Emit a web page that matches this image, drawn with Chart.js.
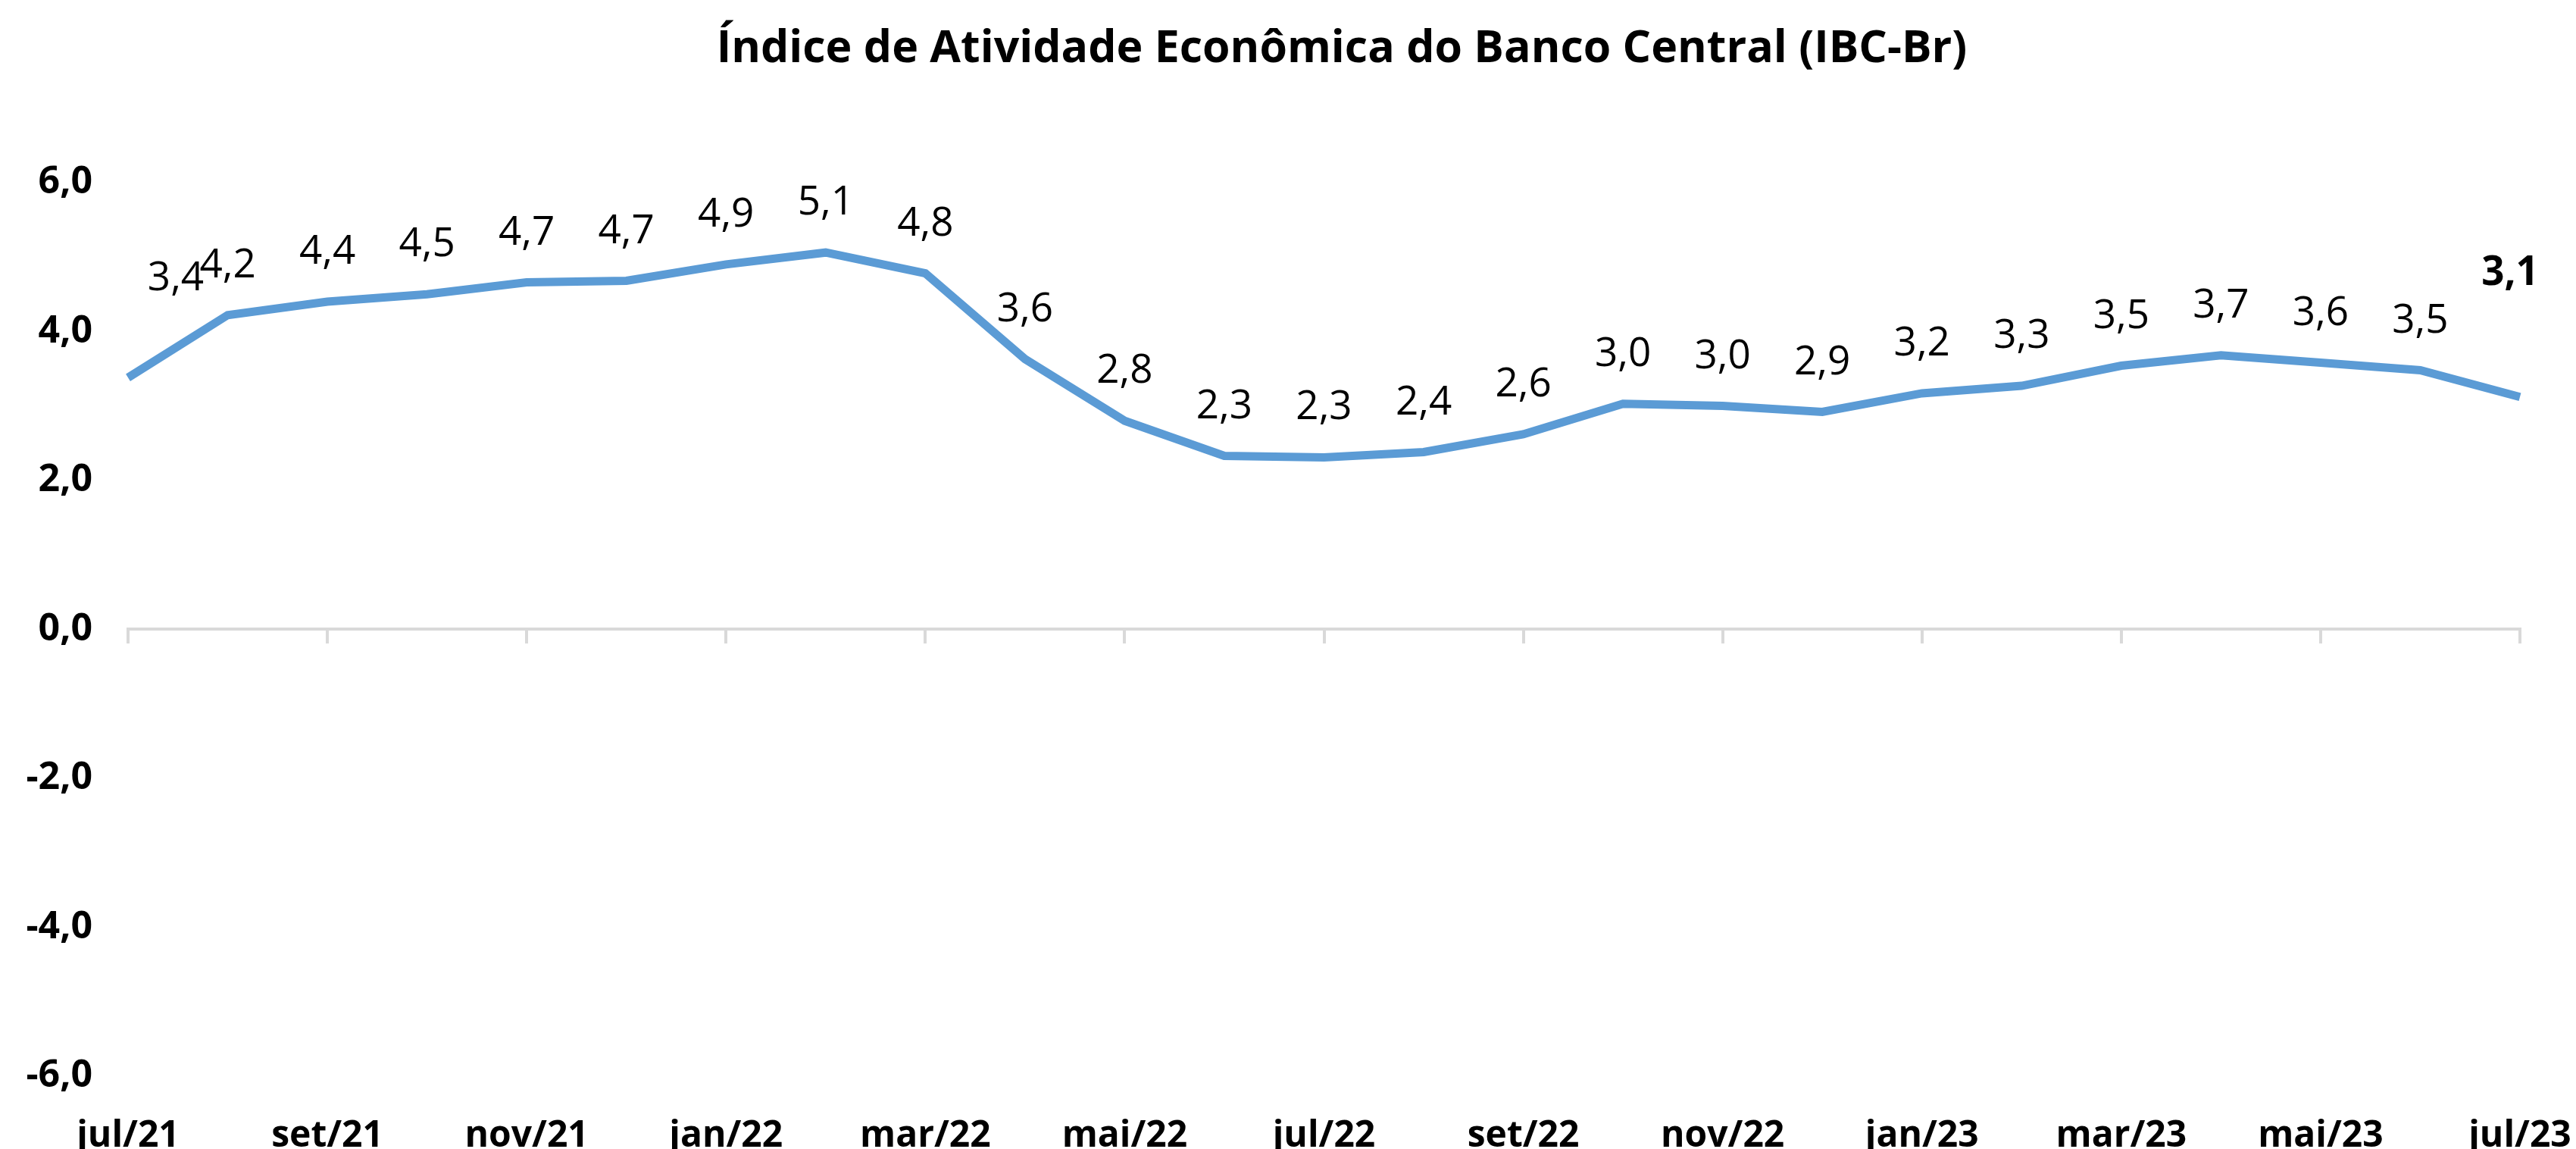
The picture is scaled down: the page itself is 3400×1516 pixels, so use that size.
<!DOCTYPE html>
<html>
<head>
<meta charset="utf-8">
<script src="https://cdn.jsdelivr.net/npm/chart.js@4.4.0/dist/chart.umd.min.js"></script>
<style>
  body { margin: 0; background: #fff; }
  #wrap { width: 3400px; height: 1516px; }
</style>
</head>
<body>
<div id="wrap"><canvas id="ibc-canvas"></canvas></div>
<script>
// monthly labels jul/21 .. jul/23
let months = ['jul/21','ago/21','set/21','out/21','nov/21','dez/21',
              'jan/22','fev/22','mar/22','abr/22','mai/22','jun/22',
              'jul/22','ago/22','set/22','out/22','nov/22','dez/22',
              'jan/23','fev/23','mar/23','abr/23','mai/23','jun/23','jul/23'];
// IBC-Br, % (12 month accumulated)
let ibcValues = [3.38, 4.22, 4.40, 4.50, 4.66, 4.68, 4.90, 5.06, 4.78, 3.63, 2.80, 2.33,
                 2.31, 2.38, 2.62, 3.03, 3.00, 2.92, 3.17, 3.27, 3.54, 3.68, 3.58, 3.48, 3.12];
let yTicks = [-6, -4, -2, 0, 2, 4, 6];

const fontFamily = '"Open Sans", "Noto Sans", sans-serif';
const fmt = (v) => v.toFixed(1).replace('.', ',');

// draws the value above each point (first and last were moved by hand in the original)
const valueLabels = {
  id: 'valueLabels',
  afterLayout(chart) {
    // title sits a bit right of the canvas centre in the original
    chart.titleBlock.left += 61;
    chart.titleBlock.right += 61;
  },
  afterDatasetsDraw(chart) {
    const ctx = chart.ctx;
    const meta = chart.getDatasetMeta(0);
    const last = meta.data.length - 1;
    ctx.save();
    ctx.fillStyle = '#000';
    ctx.textAlign = 'center';
    ctx.textBaseline = 'middle';
    meta.data.forEach((pt, i) => {
      let dx = 0, dy = -65;
      if (i === 0) { dx = 63; dy = -130; }
      if (i === last) { dx = -13; dy = -163; }
      ctx.font = (i === last ? 'bold ' : '') + '53px ' + fontFamily;
      ctx.fillText(fmt(ibcValues[i]), pt.x + dx, pt.y + dy);
    });
    ctx.restore();
  }
};

const ctx = document.getElementById('ibc-canvas').getContext('2d');
window.ibcChart = new Chart(ctx, {
  type: 'line',
  data: {
    labels: months,
    datasets: [{
      label: 'IBC-Br',
      data: ibcValues,
      borderColor: '#5B9BD5',
      borderWidth: 11,
      pointRadius: 0,
      tension: 0,
      fill: false,
      xAxisID: 'x',
      yAxisID: 'y'
    }]
  },
  options: {
    responsive: true,
    maintainAspectRatio: false,
    animation: false,
    layout: { padding: { left: 20, right: 0, top: 0, bottom: 0 } },
    plugins: {
      legend: { display: false },
      tooltip: { enabled: false },
      title: {
        display: true,
        text: 'Índice de Atividade Econômica do Banco Central (IBC-Br)',
        color: '#000',
        font: { family: fontFamily, size: 59, weight: 'bold' },
        padding: { top: 30, bottom: 140 }
      }
    },
    scales: {
      x: {
        type: 'category',
        position: 'bottom',
        grid: { display: false },
        border: { display: false },
        ticks: {
          autoSkip: false,
          maxRotation: 0,
          padding: 43,
          color: '#000',
          font: { family: fontFamily, size: 48, weight: 'bold' },
          callback: function(val, index) { return index % 2 === 0 ? this.getLabelForValue(val) : ''; }
        },
        afterFit: (scale) => {
          scale.height = 96;
          scale.paddingLeft = 0;
          scale.paddingRight = 74;
        }
      },
      x2: {
        type: 'category',
        labels: months,
        position: { y: 0 },
        grid: {
          drawOnChartArea: false,
          tickLength: 17,
          lineWidth: 4,
          color: (c) => (c.index % 2 === 0 ? '#D9D9D9' : 'rgba(0,0,0,0)')
        },
        border: { display: true, color: '#D9D9D9', width: 4 },
        ticks: { display: false, autoSkip: false }
      },
      y: {
        min: -6,
        max: 6,
        afterBuildTicks: (scale) => { scale.ticks = yTicks.map(v => ({ value: v })); },
        grid: { display: false },
        border: { display: false },
        ticks: {
          padding: 39,
          color: '#000',
          font: { family: fontFamily, size: 50, weight: 'bold' },
          callback: (v) => fmt(v)
        },
        afterFit: (scale) => { scale.width = 149; }
      }
    }
  },
  plugins: [valueLabels]
});
</script>
</body>
</html>
